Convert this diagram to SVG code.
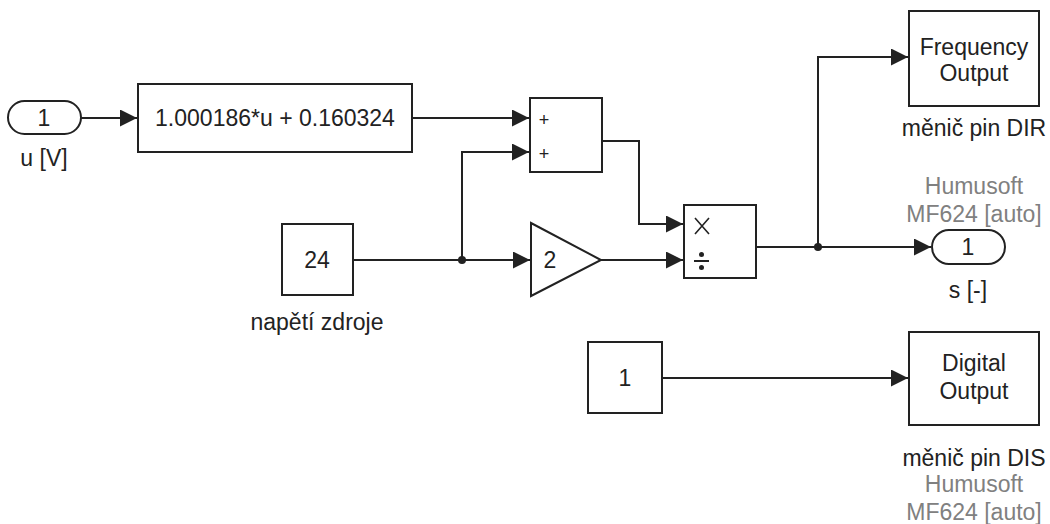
<svg xmlns="http://www.w3.org/2000/svg" width="1050" height="524" viewBox="0 0 1050 524">
<style>
.blk{fill:#fff;stroke:#222;stroke-width:2}
.t{font-family:"Liberation Sans",Arial,sans-serif;font-size:23px;fill:#222;text-anchor:middle}
.g{fill:#808080}
.w{fill:none;stroke:#222;stroke-width:2}
.dot{fill:#222}
</style>
<defs>
<marker id="ah" markerUnits="userSpaceOnUse" markerWidth="17" markerHeight="17" refX="17" refY="8.5" orient="auto" viewBox="0 0 17 17">
<path d="M0,0 L17,8.5 L0,17 z" fill="#222"/>
</marker>
</defs>
<g id="connectors">
<path class="w" d="M81,118 H137" marker-end="url(#ah)"/>
<path class="w" d="M412,118 H529" marker-end="url(#ah)"/>
<path class="w" d="M353,260 H530" marker-end="url(#ah)"/>
<path class="w" d="M462,260 V152 H529" marker-end="url(#ah)"/>
<path class="w" d="M602,141 H639 V224 H683" marker-end="url(#ah)"/>
<path class="w" d="M601,260 H683" marker-end="url(#ah)"/>
<path class="w" d="M756,247 H931" marker-end="url(#ah)"/>
<path class="w" d="M818,247 V57 H908" marker-end="url(#ah)"/>
<path class="w" d="M662,378 H908" marker-end="url(#ah)"/>
<circle class="dot" cx="462" cy="260" r="4"/>
<circle class="dot" cx="818" cy="247" r="4"/>
</g>
<g id="inport_u">
<rect class="blk" x="8" y="101" width="73" height="33" rx="16.5"/>
<text class="t" x="44" y="126">1</text>
<text class="t" x="44" y="166">u [V]</text>
</g>
<g id="fcn">
<rect class="blk" x="138" y="84" width="274" height="68"/>
<text class="t" x="275" y="126">1.000186*u + 0.160324</text>
</g>
<g id="sum">
<rect class="blk" x="530" y="98" width="72" height="74"/>
<text class="t" x="544" y="126" style="font-size:18px">+</text>
<text class="t" x="544" y="160" style="font-size:18px">+</text>
</g>
<g id="const24">
<rect class="blk" x="282" y="224" width="71" height="71"/>
<text class="t" x="317" y="268">24</text>
<text class="t" x="317" y="330">napětí zdroje</text>
</g>
<g id="gain">
<path class="blk" d="M531,223 L601,260 L531,296 z"/>
<text class="t" x="550" y="268">2</text>
</g>
<g id="product">
<rect class="blk" x="684" y="205" width="72" height="73"/>
<path d="M695,218 L709,234 M709,218 L695,234" stroke="#222" stroke-width="1.6" fill="none"/>
<path d="M694,261 H709" stroke="#222" stroke-width="2"/>
<circle cx="701.5" cy="254.5" r="2.5" fill="#222"/>
<circle cx="701.5" cy="267.5" r="2.5" fill="#222"/>
</g>
<g id="freq_out">
<rect class="blk" x="909" y="11" width="130" height="95"/>
<text class="t" x="974" y="55">Frequency</text>
<text class="t" x="974" y="81">Output</text>
<text class="t" x="974" y="136">měnič pin DIR</text>
<text class="t g" x="974" y="194">Humusoft</text>
<text class="t g" x="974" y="222">MF624 [auto]</text>
</g>
<g id="outport_s">
<rect class="blk" x="932" y="230" width="73" height="34" rx="17"/>
<text class="t" x="968" y="255">1</text>
<text class="t" x="968" y="298">s [-]</text>
</g>
<g id="const1">
<rect class="blk" x="588" y="342" width="74" height="71"/>
<text class="t" x="625" y="386">1</text>
</g>
<g id="digital_out">
<rect class="blk" x="909" y="332" width="130" height="93"/>
<text class="t" x="974" y="371">Digital</text>
<text class="t" x="974" y="399">Output</text>
<text class="t" x="974" y="466">měnič pin DIS</text>
<text class="t g" x="974" y="492">Humusoft</text>
<text class="t g" x="974" y="520">MF624 [auto]</text>
</g>
</svg>
